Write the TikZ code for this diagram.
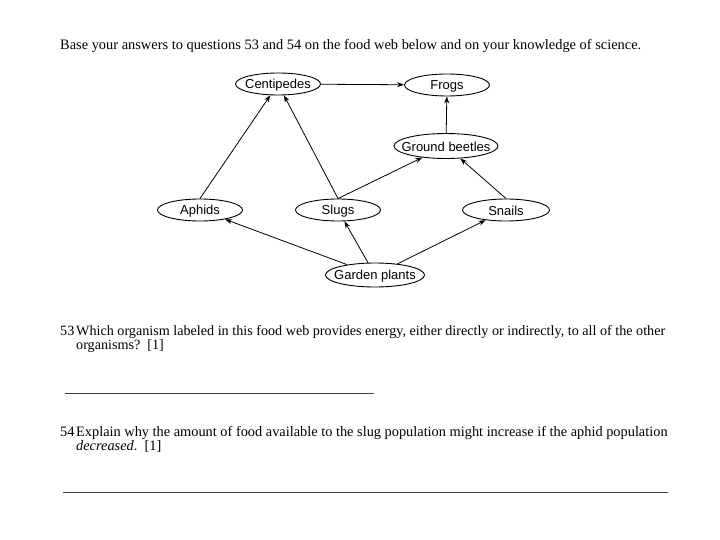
\documentclass[tikz,border=0pt]{standalone}
\usepackage{fontspec}
\setmainfont{Liberation Serif}
\newfontfamily\labelfont{Liberation Sans}
\usetikzlibrary{shapes.geometric,arrows.meta}
\begin{document}
\begin{tikzpicture}[x=1pt,y=-1pt,
  organism/.style={draw,ellipse,line width=0.9pt,inner sep=0pt,minimum height=22pt,
    label={[font=\labelfont\fontsize{13}{15}\selectfont,inner sep=0pt,yshift=-1pt]center:#1}},
  feeds/.style={-{Stealth[length=7pt,width=5pt]},line width=0.8pt},
  txt/.style={anchor=base west,inner sep=0pt,font=\fontsize{14.4}{17}\selectfont},
  qtxt/.style={txt,font=\fontsize{14.15}{17}\selectfont},
  answer/.style={line width=0.6pt,draw=black!75}]
\useasboundingbox (0,0) rectangle (720,540);
% heading
\node[txt] (head) at (60,50) {Base your answers to questions 53 and 54 on the food web below and on your knowledge of science.};
% food web
\node[organism=Centipedes,minimum width=85pt] (cent) at (278,84) {};
\node[organism=Frogs,minimum width=85pt] (frog) at (447,85) {};
\node[organism=Ground beetles,minimum width=104pt,minimum height=25pt] (gb) at (446,146) {};
\node[organism=Aphids,minimum width=85pt] (aph) at (200,210) {};
\node[organism=Slugs,minimum width=85pt] (slug) at (338,210) {};
\node[organism=Snails,minimum width=87pt] (snail) at (506,210) {};
\node[organism=Garden plants,minimum width=99pt,minimum height=24pt] (gp) at (375,275) {};
\draw[feeds] (cent) -- (frog);
\draw[feeds] (gb) -- (frog);
\draw[feeds] (aph.north) -- (cent);
\draw[feeds] (slug.north) -- (cent);
\draw[feeds] (slug.north) -- (gb);
\draw[feeds] (snail.north) -- (gb);
\draw[feeds] (gp) -- (aph);
\draw[feeds] (gp) -- (slug);
\draw[feeds] (gp) -- (snail);
% question 53
\node[qtxt] (q53n) at (60,335) {53};
\node[qtxt] (q53a) at (76,335) {Which organism labeled in this food web provides energy, either directly or indirectly, to all of the other};
\node[qtxt] (q53b) at (76,349) {organisms?\ \ [1]};
\coordinate (a53s) at (65,393);
\coordinate (a53e) at (374,393);
\draw[answer] (a53s) -- (a53e);
% question 54
\node[qtxt,font=\fontsize{14.35}{17}\selectfont] (q54n) at (60,436) {54};
\node[qtxt,font=\fontsize{14.35}{17}\selectfont] (q54a) at (76,436) {Explain why the amount of food available to the slug population might increase if the aphid population};
\node[qtxt,font=\fontsize{14.35}{17}\selectfont] (q54b) at (76,450) {\textit{decreased}.\ \ [1]};
\coordinate (a54s) at (63,492);
\coordinate (a54e) at (668,492);
\draw[answer] (a54s) -- (a54e);
\end{tikzpicture}
\end{document}
